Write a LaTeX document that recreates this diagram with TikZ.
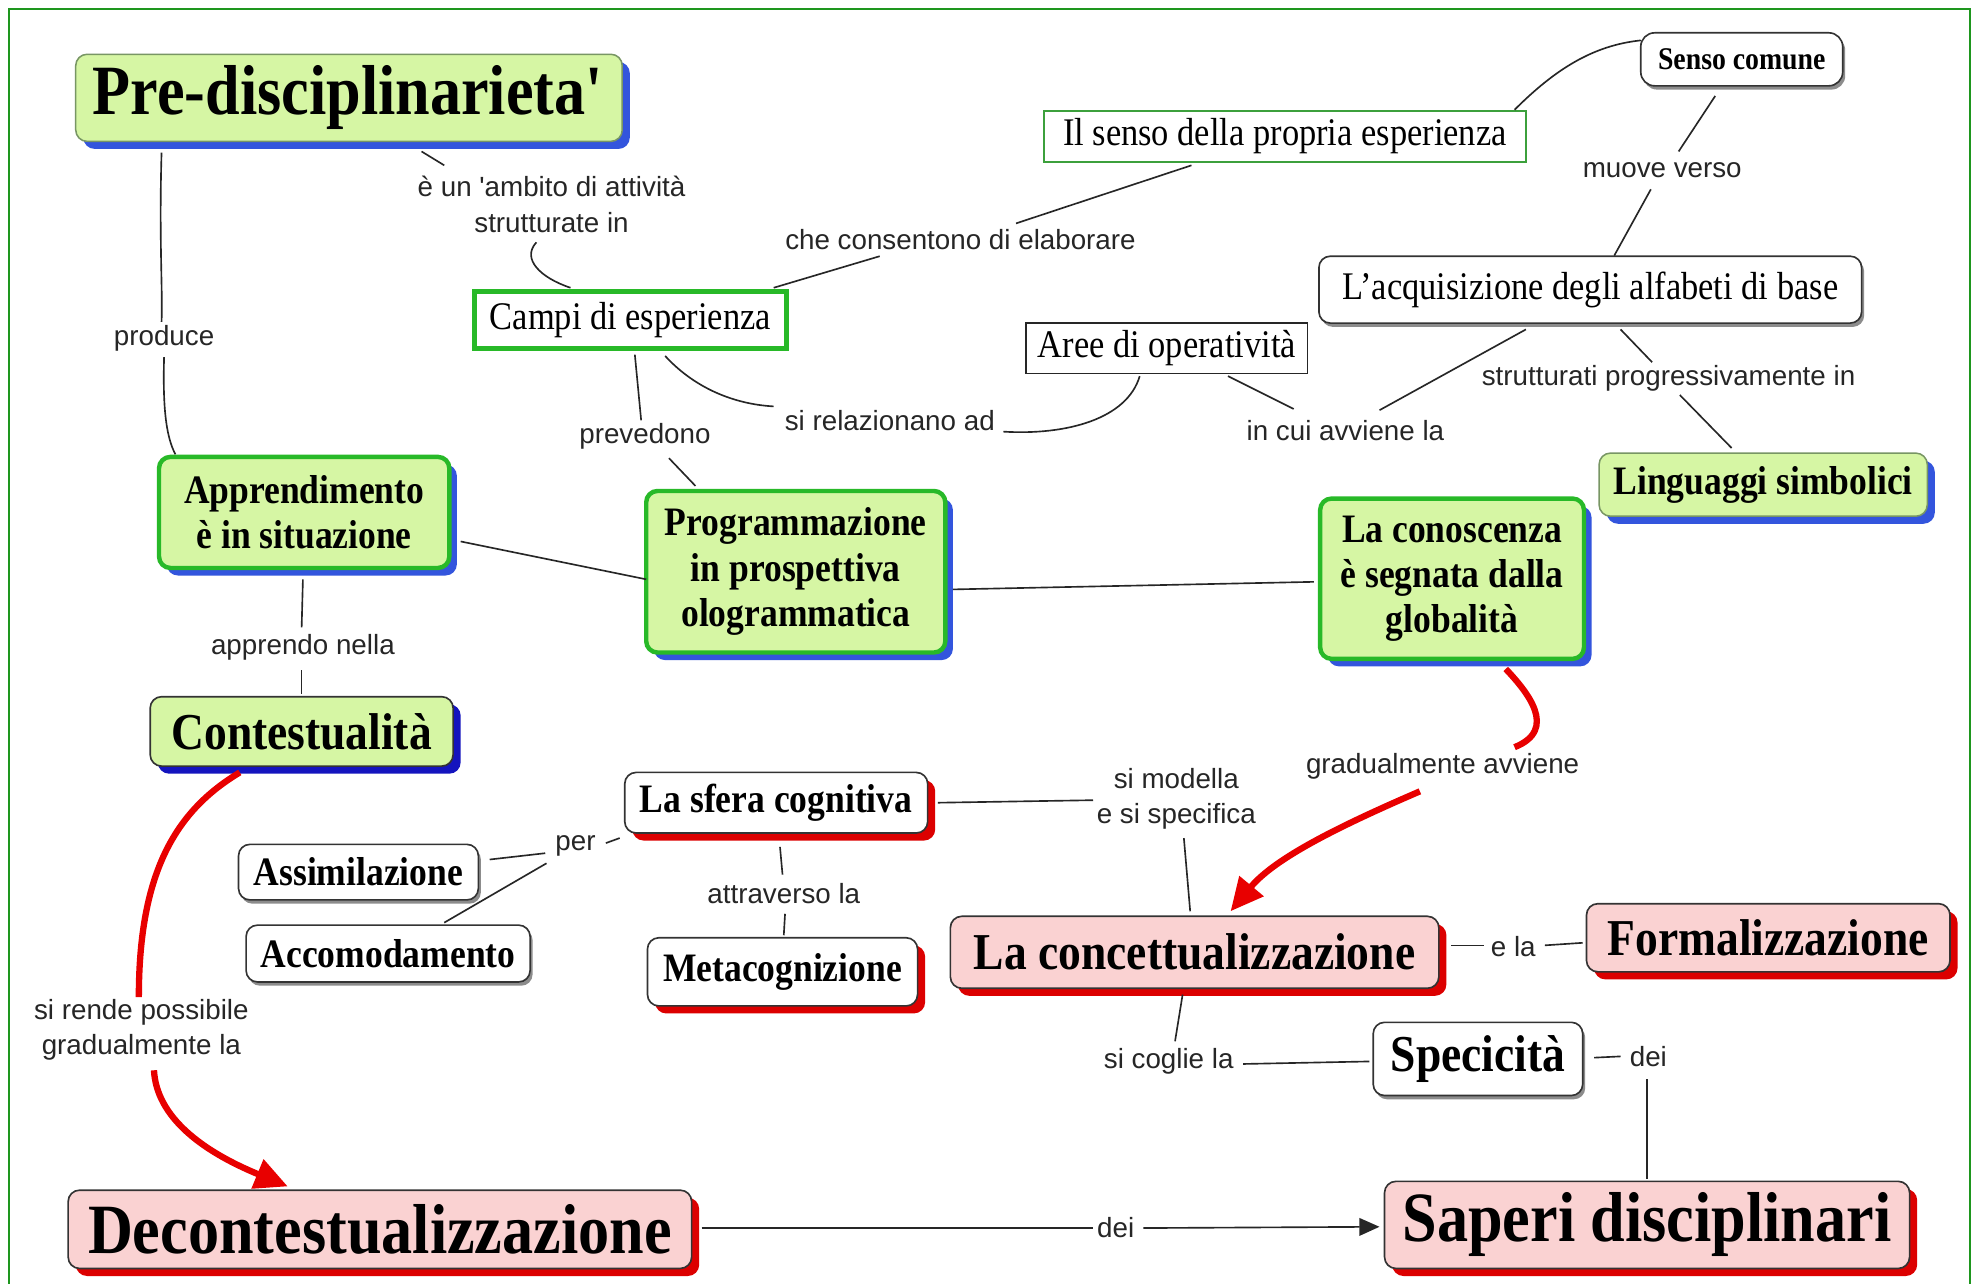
\documentclass[tikz,border=0pt]{standalone}
\usepackage{fontspec}
\usetikzlibrary{shadows,calc,arrows.meta}
\newfontfamily\cfont{Liberation Serif}[FakeStretch=0.88]
\newfontfamily\lfont{Liberation Sans}
\definecolor{lgreen}{RGB}{214,246,164}
\definecolor{lpink}{RGB}{250,210,210}
\definecolor{shblue}{RGB}{51,85,221}
\definecolor{shdblue}{RGB}{20,20,190}
\definecolor{shred}{RGB}{220,0,0}
\definecolor{gborder}{RGB}{40,185,40}
\definecolor{gthin}{RGB}{60,160,60}
\definecolor{frameg}{RGB}{30,150,30}
\definecolor{redline}{RGB}{232,0,0}
\definecolor{pborder}{RGB}{120,150,100}
\begin{document}
\begin{tikzpicture}[x=1pt,y=-1pt,
  concept/.style={align=center, inner sep=0pt, text=black},
  cbold/.style={font=\cfont\bfseries\fontsize{#1}{36}\selectfont},
  creg/.style={font=\cfont\fontsize{#1}{36}\selectfont},
  bshadow/.style={drop shadow={shadow xshift=6pt, shadow yshift=-6pt, fill=shblue, opacity=1}},
  dbshadow/.style={drop shadow={shadow xshift=6pt, shadow yshift=-6pt, fill=shdblue, opacity=1}},
  rshadow/.style={drop shadow={shadow xshift=6pt, shadow yshift=-6pt, fill=shred, opacity=1}},
  gshadow/.style={drop shadow={shadow xshift=2pt, shadow yshift=-3pt, fill=black!45, opacity=1}},
  greenbox/.style={concept, rounded corners=9pt, fill=lgreen, draw=pborder, line width=1.2pt, bshadow},
  greenthick/.style={concept, rounded corners=9pt, fill=lgreen, draw=gborder, line width=3.5pt, bshadow},
  pinkbox/.style={concept, rounded corners=9pt, fill=lpink, draw=black!80, line width=1.3pt, rshadow},
  whitered/.style={concept, rounded corners=9pt, fill=white, draw=black!80, line width=1.3pt, rshadow},
  whitebox/.style={concept, rounded corners=9pt, fill=white, draw=black!80, line width=1.3pt, gshadow},
  lab/.style={align=center, inner sep=1pt, font=\lfont\fontsize{22}{28}\selectfont, text=black!85},
  link/.style={draw=black!85, line width=1.3pt},
  redlink/.style={draw=redline, line width=5pt},
  redtip/.style={-{Triangle[length=26pt,width=24pt]}}
]
\useasboundingbox (0,0) rectangle (1568,1017);
\fill[white] (0,0) rectangle (1568,1017);
\draw[frameg, line width=1.5pt] (7,7) rectangle (1561,1035);

% ---------- concepts ----------
\node[greenbox, cbold=56, minimum width=433pt, minimum height=69pt] (pre) at (276.5,77.5) {Pre-disciplinarieta\textquotesingle};
\node[concept, creg=31, fill=white, draw=gborder, line width=4pt, minimum width=247pt, minimum height=45pt] (campi) at (499.5,253.5) {Campi di esperienza};
\node[concept, creg=31, fill=white, draw=gthin, line width=1.6pt, minimum width=382pt, minimum height=40pt] (senso) at (1018,108) {Il senso della propria esperienza};
\node[whitebox, cbold=25, rounded corners=11pt, minimum width=160pt, minimum height=42pt] (comune) at (1380,47) {Senso comune};
\node[whitebox, creg=31, minimum width=430pt, minimum height=53pt] (alfa) at (1260,229.5) {L’acquisizione degli alfabeti di base};
\node[concept, creg=31, fill=white, draw=black!85, line width=1.2pt, minimum width=223pt, minimum height=40pt] (aree) at (924.5,276) {Aree di operatività};
\node[greenbox, cbold=32, minimum width=260pt, minimum height=50pt] (ling) at (1397,384) {Linguaggi simbolici};
\node[greenthick, cbold=32, minimum width=230pt, minimum height=88pt] (appr) at (241,406) {Apprendimento\\è in situazione};
\node[greenthick, cbold=32, minimum width=237pt, minimum height=128pt] (prog) at (630.5,453) {Programmazione\\in prospettiva\\ologrammatica};
\node[greenthick, cbold=32, minimum width=209pt, minimum height=127pt] (conosc) at (1150.5,458.5) {La conoscenza\\è segnata dalla\\globalità};
\node[concept, rounded corners=9pt, fill=lgreen, draw=black!80, line width=1.3pt, dbshadow, cbold=41, minimum width=240pt, minimum height=55pt] (cont) at (239,579.5) {Contestualità};
\node[whitered, cbold=32, minimum width=240pt, minimum height=48pt] (sfera) at (615,636) {La sfera cognitiva};
\node[whitebox, cbold=32, minimum width=190pt, minimum height=44pt] (assim) at (284,691) {Assimilazione};
\node[whitebox, cbold=32, minimum width=225pt, minimum height=45pt] (accom) at (307.5,755.5) {Accomodamento};
\node[whitered, cbold=32, minimum width=214pt, minimum height=54pt] (meta) at (620,770) {Metacognizione};
\node[pinkbox, cbold=41, minimum width=387pt, minimum height=57pt] (conc) at (946.5,754.5) {La concettualizzazione};
\node[pinkbox, cbold=41, minimum width=288pt, minimum height=54pt] (form) at (1401,743) {Formalizzazione};
\node[whitebox, cbold=41, minimum width=166pt, minimum height=58pt] (spec) at (1171,839) {Specicità};
\node[pinkbox, cbold=56, minimum width=494pt, minimum height=62pt] (decon) at (301,974) {Decontestualizzazione};
\node[pinkbox, cbold=56, minimum width=416pt, minimum height=69pt] (saperi) at (1305,970.5) {Saperi disciplinari};

% ---------- linking phrases ----------
\node[lab] (l1) at (437,162) {è un \textquotesingle ambito di attività\\strutturate in};
\node[lab] (l2) at (761,190) {che consentono di elaborare};
\node[lab] (l3) at (130,268) {produce};
\node[lab] (l4) at (511,346) {prevedono};
\node[lab] (l5) at (705,333) {si relazionano ad};
\node[lab] (l6) at (1066,341) {in cui avviene la};
\node[lab] (l7) at (1317,135) {muove verso};
\node[lab] (l8) at (1322,300) {strutturati progressivamente in};
\node[lab] (l9) at (240,513) {apprendo nella};
\node[lab] (l10) at (932,633) {si modella\\e si specifica};
\node[lab] (l11) at (1143,607) {gradualmente avviene};
\node[lab] (l12) at (456,670) {per};
\node[lab] (l13) at (621,708) {attraverso la};
\node[lab] (l14) at (1199,750) {e la};
\node[lab] (l15) at (926,841) {si coglie la};
\node[lab] (l16) at (1306,837) {dei};
\node[lab] (l17) at (112,816) {si rende possibile\\gradualmente la};
\node[lab] (l18) at (884,973) {dei};

% ---------- connectors ----------
\draw[link] ($(pre)+(57.5,42.5)$) -- ($(l1)+(-85,-31)$);
\draw[link] ($(l1)+(-12,30)$) .. controls (413,205) and (428,220) .. ($(campi)+(-47.5,-25.5)$);
\draw[link] ($(campi)+(113.5,-25.5)$) -- ($(l2)+(-64,13)$);
\draw[link] ($(l2)+(44,-13)$) -- ($(senso)+(-74,23)$);
\draw[link] ($(pre)+(-148.5,43.5)$) .. controls (126,190) and (129,230) .. ($(l3)+(-2,-13)$);
\draw[link] ($(l3)+(0,15)$) .. controls (129,320) and (131,345) .. ($(appr)+(-102,-46)$);
\draw[link] ($(campi)+(3.5,27.5)$) -- ($(l4)+(-3,-13)$);
\draw[link] ($(l4)+(19,17)$) -- ($(prog)+(-79.5,-68)$);
\draw[link] ($(campi)+(27.5,28.5)$) .. controls (548,305) and (578,320) .. ($(l5)+(-92,-11)$);
\draw[link] ($(l5)+(90,9)$) .. controls (845,345) and (893,332) .. ($(aree)+(-21.5,22)$);
\draw[link] ($(aree)+(48.5,22)$) -- ($(l6)+(-41,-17)$);
\draw[link] ($(l6)+(27,-16)$) -- ($(alfa)+(-51,31.5)$);
\draw[link] ($(senso)+(182,-21)$) .. controls (1232,55) and (1262,36) .. ($(comune)+(-80,-15)$);
\draw[link] ($(comune)+(-21,29)$) -- ($(l7)+(13,-15)$);
\draw[link] ($(l7)+(-9,15)$) -- ($(alfa)+(19,-27)$);
\draw[link] ($(alfa)+(24,31.5)$) -- ($(l8)+(-13,-13)$);
\draw[link] ($(l8)+(9,13)$) -- ($(ling)+(-25,-29)$);
\draw[link] ($(appr)+(124,23)$) -- ($(prog)+(-118.5,6)$);
\draw[link] ($(prog)+(124.5,14)$) -- ($(conosc)+(-109.5,2.5)$);
\draw[link] ($(appr)+(-1,53)$) -- ($(l9)+(-1,-16)$);
\draw[link] ($(l9)+(-1,18)$) -- ($(cont)+(0,-29.5)$);
\draw[link] ($(sfera)+(128,0)$) -- ($(l10)+(-66,1)$);
\draw[link] ($(l10)+(6,31)$) -- ($(conc)+(-3.5,-32.5)$);
\draw[link] ($(assim)+(104,-10)$) -- ($(l12)+(-24,6)$);
\draw[link] ($(accom)+(44.5,-24.5)$) -- ($(l12)+(-23,14)$);
\draw[link] ($(l12)+(24,-2)$) -- ($(sfera)+(-124,28)$);
\draw[link] ($(sfera)+(3,35)$) -- ($(l13)+(-1,-15)$);
\draw[link] ($(l13)+(1,16)$) -- ($(meta)+(1,-29)$);
\draw[link] ($(conc)+(203.5,-5.5)$) -- ($(l14)+(-23,-1)$);
\draw[link] ($(l14)+(25,-1)$) -- ($(form)+(-147,4)$);
\draw[link] ($(conc)+(-9.5,33.5)$) -- ($(l15)+(5,-16)$);
\draw[link] ($(l15)+(59,2)$) -- ($(spec)+(-86,2)$);
\draw[link] ($(spec)+(92,-1)$) -- ($(l16)+(-22,0)$);
\draw[link] ($(l16)+(-1,18)$) -- ($(saperi)+(0,-36.5)$);
\draw[link] ($(decon)+(255,-1)$) -- ($(l18)+(-18,0)$);
\draw[link, -{Triangle[length=16pt,width=14pt]}] ($(l18)+(22,0)$) -- ($(saperi)+(-212,1.5)$);

% red connectors
\draw[redlink] ($(cont)+(-49,32.5)$) .. controls (140,642) and (110,690) .. ($(l17)+(-2,-26)$);
\draw[redlink, redtip] ($(l17)+(10,32)$) .. controls (124,885) and (160,912) .. ($(decon)+(-73,-34)$);
\draw[redlink] ($(conosc)+(42.5,71.5)$) .. controls (1210,548) and (1235,578) .. ($(l11)+(57,-15)$);
\draw[redlink, redtip] ($(l11)+(-18,20)$) .. controls (1060,655) and (1010,680) .. ($(conc)+(28.5,-32.5)$);
\end{tikzpicture}
\end{document}
